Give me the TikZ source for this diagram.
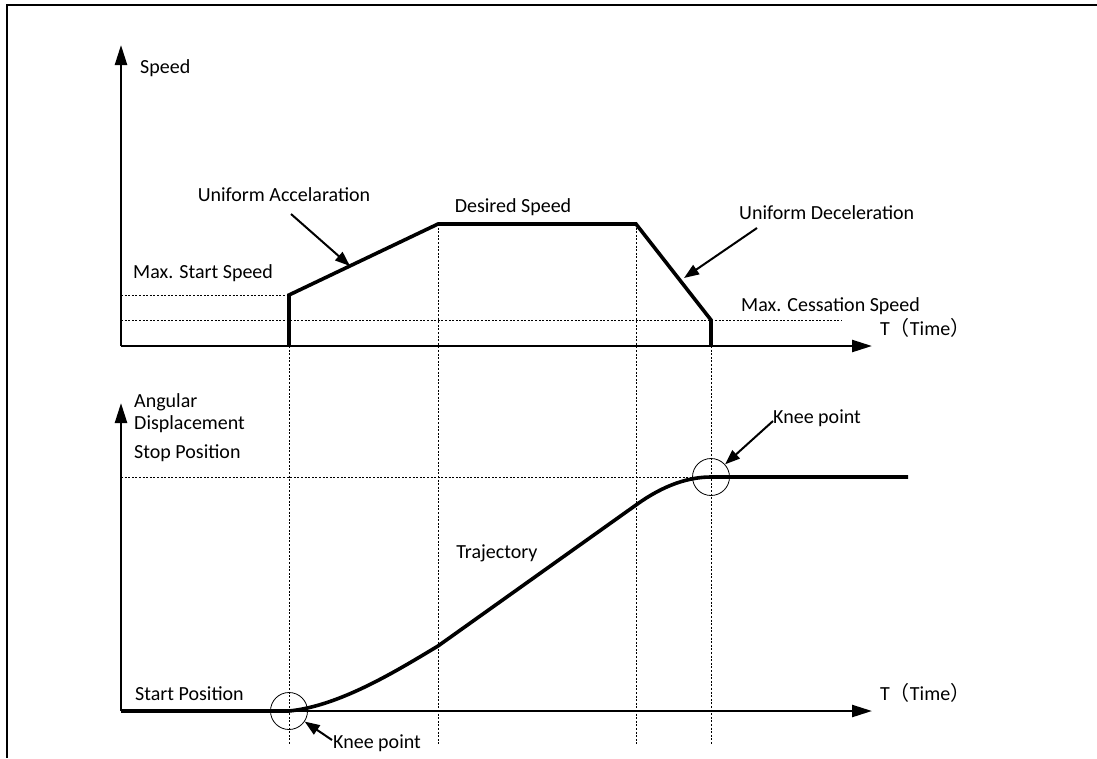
\documentclass[tikz,border=0pt]{standalone}
\usepackage{fontspec}
\setmainfont{Carlito}
\newfontfamily\cjkfont{Noto Sans CJK SC}
\usetikzlibrary{arrows.meta}

\begin{document}
\begin{tikzpicture}[x=1pt,y=-1pt,
    axis/.style={draw,line width=2.4pt,-{Triangle[length=20pt,width=12pt]}},
    profile/.style={draw,line width=3.6pt},
    guide/.style={draw,line width=0.8pt,dash pattern=on 2pt off 1.6pt},
    pointer/.style={draw,line width=2pt,-{Triangle[length=15pt,width=11pt]}},
    lbl/.style={font=\fontsize{20}{24}\selectfont,inner sep=0pt},
    knee/.style={draw,circle,line width=0.8pt,minimum size=37pt,inner sep=0pt}]
        \useasboundingbox (0,0) rectangle (1097,758);
        \path[draw,line width=2pt] (1097,5) -- (7,5) -- (7,758);

        % speed profile
        \coordinate (o1) at (121,346);
        \coordinate (v1) at (121,45);
        \coordinate (h1) at (872,346);
        \coordinate (s0) at (289,346);
        \coordinate (s1) at (289,295);
        \coordinate (s2) at (438,224);
        \coordinate (s3) at (636,224);
        \coordinate (s4) at (711,320);
        \coordinate (s5) at (711,346);
        \coordinate (ms) at (121,295);
        \coordinate (mc) at (121,320);
        \coordinate (mce) at (842,320);

        \path[guide] (ms) -- (s1);
        \path[guide] (mc) -- (mce);
        \path[axis] (o1) -- (v1);
        \path[axis] (o1) -- (h1);
        \path[profile] (s0) -- (s1) -- (s2) -- (s3) -- (s4) -- (s5);

        \node[lbl,anchor=west] (speed) at (140,68) {Speed};
        \node[lbl] (acc) at (284,195) {Uniform Accelaration};
        \node[lbl] (des) at (513,207) {Desired Speed};
        \node[lbl,anchor=west] (dec) at (739,213) {Uniform Deceleration};
        \node[lbl,anchor=west] (mss) at (133,273) {Max. Start Speed};
        \node[lbl,anchor=west] (mcs) at (741,306) {Max. Cessation Speed};
        \node[lbl,anchor=west] (t1) at (880,328) {T{\cjkfont （}Time{\cjkfont ）}};

        \coordinate (acctip) at (350,266);
        \coordinate (dectip) at (684,278);
        \path[pointer] (291,214) -- (acctip);
        \path[pointer] (757,228) -- (dectip);

        % angular displacement
        \coordinate (o2) at (121,711);
        \coordinate (v2) at (121,403);
        \coordinate (h2) at (872,711);
        \coordinate (k1) at (289,711);
        \coordinate (p1) at (438,646);
        \coordinate (p2) at (636,505);
        \coordinate (k2) at (711,477);
        \coordinate (pend) at (908,477);
        \coordinate (sp) at (121,477);

        \path[guide] (sp) -- (k2);
        \path[guide] (s0) -- (289,745);
        \path[guide] (s2) -- (438,745);
        \path[guide] (s3) -- (636,745);
        \path[guide] (s5) -- (711,745);
        \path[axis] (o2) -- (v2);
        \path[axis] (o2) -- (h2);
        \path[profile] (o2) -- (k1) .. controls (340,706) and (398,670) .. (p1)
            -- (p2) .. controls (665,484) and (690,477) .. (k2) -- (pend);

        \node[knee] (c1) at (k1) {};
        \node[knee] (c2) at (k2) {};

        \node[lbl,anchor=west] (ang) at (134,402) {Angular};
        \node[lbl,anchor=west] (dis) at (134,424) {Displacement};
        \node[lbl,anchor=west] (stop) at (134,453) {Stop Position};
        \node[lbl,anchor=west] (start) at (135,694) {Start Position};
        \node[lbl] (traj) at (497,553) {Trajectory};
        \node[lbl,anchor=west] (t2) at (880,693) {T{\cjkfont （}Time{\cjkfont ）}};
        \node[lbl,anchor=west] (kn1) at (333,743) {Knee point};
        \node[lbl,anchor=west] (kn2) at (773,418) {Knee point};

        \path[pointer] (332,740) -- (c1);
        \path[pointer] (773,421) -- (c2);
\end{tikzpicture}
\end{document}
